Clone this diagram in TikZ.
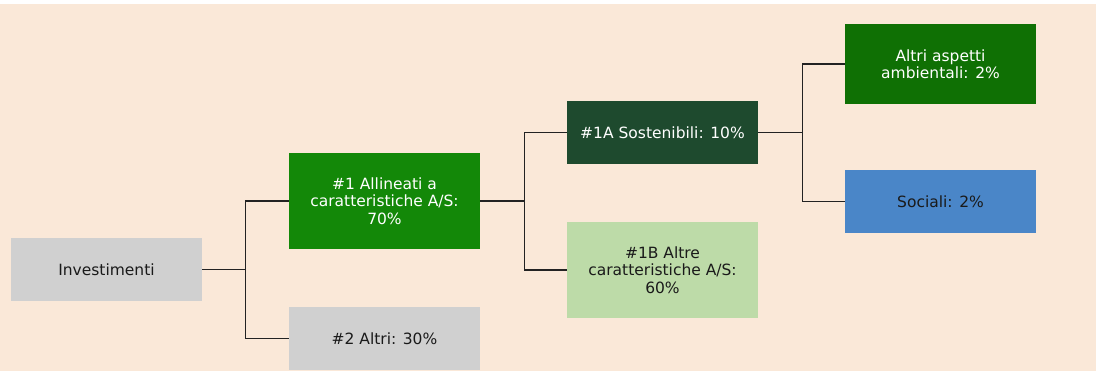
\documentclass[tikz,border=0pt]{standalone}
\usepackage{fontspec}
\setmainfont{DejaVu Sans}
\definecolor{bgpeach}{HTML}{FAE8D8}
\definecolor{boxgray}{HTML}{D0D0D0}
\definecolor{greenA}{HTML}{138808}
\definecolor{greenDark}{HTML}{1E4A2E}
\definecolor{greenLight}{HTML}{BDDBA8}
\definecolor{greenEnv}{HTML}{0F7004}
\definecolor{boxblue}{HTML}{4A86C8}
\definecolor{textdark}{HTML}{1A1A1A}
\definecolor{linedark}{HTML}{222222}
\tikzset{
  box/.style={rectangle, inner sep=0pt, minimum width=191pt, align=center,
    font=\fontsize{15.5}{17.5}\selectfont},
  darktext/.style={box, text=textdark},
  lighttext/.style={box, text=white},
  link/.style={draw=linedark, line width=1.3pt}
}
\begin{document}
\begin{tikzpicture}[x=1pt,y=-1pt]
\useasboundingbox (0,0) rectangle (1098,371);
\fill[white] (0,0) rectangle (1098,371);
\fill[bgpeach] (0,4) rectangle (1096,371);
\node[darktext, fill=boxgray, minimum height=63pt] (inv) at (106.5,269.5) {Investimenti};
\node[lighttext, fill=greenA, minimum height=96pt] (n1) at (384.5,201) {\#1 Allineati a\\caratteristiche A/S:\\70\%};
\node[darktext, fill=boxgray, minimum height=63pt] (n2) at (384.5,338.5) {\#2 Altri: 30\%};
\node[lighttext, fill=greenDark, minimum height=63pt] (n1a) at (662.5,132.5) {\#1A Sostenibili: 10\%};
\node[darktext, fill=greenLight, minimum height=96pt] (n1b) at (662.5,270) {\#1B Altre\\caratteristiche A/S:\\60\%};
\node[lighttext, fill=greenEnv, minimum height=80pt] (env) at (940.5,64) {Altri aspetti\\ambientali: 2\%};
\node[darktext, fill=boxblue, minimum height=63pt] (soc) at (940.5,201.5) {Sociali: 2\%};
\draw[link] (inv.east) -- ++(43,0) coordinate (j1) |- (n1.west);
\draw[link] (j1) |- (n2.west);
\draw[link] (n1.east) -- ++(44,0) coordinate (j2) |- (n1a.west);
\draw[link] (j2) |- (n1b.west);
\draw[link] (n1a.east) -- ++(44,0) coordinate (j3) |- (env.west);
\draw[link] (j3) |- (soc.west);
\end{tikzpicture}
\end{document}
